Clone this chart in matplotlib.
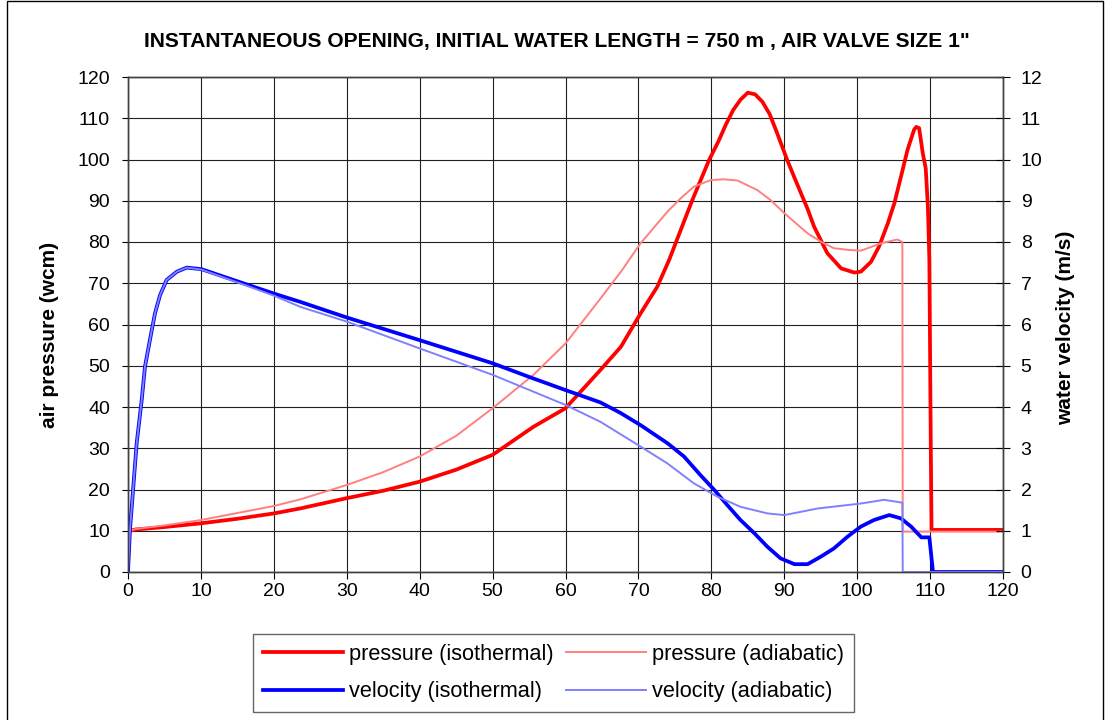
import matplotlib
matplotlib.use("Agg")
import matplotlib.pyplot as plt
from matplotlib import font_manager
from matplotlib.patches import Rectangle

# dados lidos do grafico original
# pressao do ar (wcm), eixo da esquerda
p_iso_t = [0.3, 1, 5, 10, 15, 20, 23.6, 30, 35, 40, 45, 50, 55.6, 60, 64.8, 67.6,
           70.3, 72.6, 74.2, 77.4, 79.7, 81, 82, 83, 84, 85, 86, 87, 88, 89, 90.4,
           91.35, 92.3, 93.2, 94.1, 95.9, 97.8, 99.6, 100.5, 101.9, 103, 104.2, 105.1,
           106, 106.9, 107.8, 108.1, 108.5, 109, 109.4, 109.7, 109.9, 110.1, 110.2, 120]
p_iso = [10, 10.3, 10.9, 11.8, 12.9, 14.2, 15.4, 17.9, 19.7, 21.9, 24.8, 28.4, 35.2,
         39.7, 49.0, 54.6, 62.7, 69.2, 75.6, 90.2, 99.9, 104.5, 108.5, 112, 114.5,
         116.2, 115.8, 114, 111, 106.5, 99.9, 95.8, 91.8, 88.0, 83.7, 77.3, 73.6,
         72.6, 72.8, 75.2, 78.9, 84.5, 89.4, 95.8, 102.3, 107.2, 107.9, 107.6, 101.5,
         97.9, 88.6, 75.6, 30, 10.2, 10.2]

p_adi_t = [0.3, 1, 5, 10, 15, 20, 23.6, 30, 35, 40, 45, 50, 55.6, 60, 64.8, 67.6, 70.3,
           74, 75.8, 77.6, 79.9, 81.7, 83.6, 86.3, 88.1, 90, 93.2, 95, 96.8, 98.7,
           100.5, 103.3, 105.5, 106.2, 106.25, 120]
p_adi = [10, 10.4, 11.3, 12.6, 14.3, 16.0, 17.6, 21.1, 24.2, 28.0, 33.0, 39.7, 47.8,
         55.4, 66.3, 72.8, 79.7, 87.4, 90.6, 93.4, 95.0, 95.2, 94.9, 92.6, 90.2,
         87.0, 82.1, 80.1, 78.5, 78.1, 77.9, 79.7, 80.6, 80.0, 9.8, 9.8]

# velocidade da agua (m/s), eixo da direita
v_iso_t = [0, 0.27, 0.73, 1.19, 1.88, 2.33, 3.0, 3.7, 4.39, 5.3, 6.7, 8.06, 10.1, 15.8,
           20, 23.6, 30, 40, 50, 55, 60, 64.8, 67.5, 70.3, 74, 76.25, 78.5, 80.4, 82.2,
           84, 85.9, 87.7, 89.5, 91.4, 93.2, 95, 96.8, 98.7, 100.5, 102.3, 104.4, 106,
           107.4, 108.8, 109.9, 110.4, 120]
v_iso = [0, 1.02, 2.07, 3.12, 4.17, 4.98, 5.62, 6.27, 6.71, 7.08, 7.28, 7.38, 7.34, 7.0,
         6.75, 6.55, 6.17, 5.62, 5.06, 4.73, 4.41, 4.11, 3.86, 3.56, 3.12, 2.80, 2.35,
         1.99, 1.62, 1.26, 0.94, 0.61, 0.33, 0.19, 0.19, 0.37, 0.57, 0.86, 1.10, 1.26,
         1.38, 1.30, 1.10, 0.84, 0.84, 0, 0]

v_adi_t = [0, 0.27, 0.73, 1.19, 1.88, 2.33, 3.0, 3.7, 4.39, 5.3, 6.7, 8.06, 10.1, 15.8,
           20, 23.6, 30, 40, 50, 60, 64.8, 70.3, 74, 77.6, 80.8, 84, 87.7, 90, 94.6,
           100.5, 103.7, 106.2, 106.25, 120]
v_adi = [0, 1.02, 2.07, 3.12, 4.17, 4.98, 5.62, 6.27, 6.71, 7.08, 7.28, 7.38, 7.33, 6.97,
         6.7, 6.43, 6.07, 5.42, 4.78, 4.05, 3.64, 3.04, 2.63, 2.15, 1.83, 1.58, 1.42,
         1.38, 1.54, 1.66, 1.75, 1.68, 0, 0]

titulo = 'INSTANTANEOUS OPENING, INITIAL WATER LENGTH = 750 m , AIR VALVE SIZE 1"'
x_ticks = list(range(0, 121, 10))
p_ticks = list(range(0, 121, 10))
v_ticks = list(range(0, 13))

nomes = [f.name for f in font_manager.fontManager.ttflist]
fonte = "Liberation Sans" if "Liberation Sans" in nomes else "DejaVu Sans"
plt.rcParams["font.family"] = fonte

fig = plt.figure(figsize=(11.05, 7.2), dpi=100)
ax = fig.add_axes([128 / 1105, 1 - 572 / 720, 875 / 1105, 495 / 720])
ax2 = ax.twinx()

l1, = ax.plot(p_iso_t, p_iso, color="#FF0000", lw=2.7, label="pressure (isothermal)")
l2, = ax.plot(p_adi_t, p_adi, color="#FF8080", lw=1.4, label="pressure (adiabatic)")
l3, = ax2.plot(v_iso_t, v_iso, color="#0000FF", lw=2.7, label="velocity (isothermal)")
l4, = ax2.plot(v_adi_t, v_adi, color="#8080FF", lw=1.4, label="velocity (adiabatic)")

ax.set_xlim(0, 120)
ax.set_ylim(0, 120)
ax2.set_ylim(0, 12)
ax.set_xticks(x_ticks)
ax.set_yticks(p_ticks)
ax2.set_yticks(v_ticks)
ax.grid(True, color="#202020", lw=0.8)
ax.set_axisbelow(True)

ax.tick_params(axis="x", direction="out", length=5, width=0.8, pad=3, labelsize=14)
ax.tick_params(axis="y", direction="out", length=4.5, width=0.8, pad=8.5, labelsize=14)
ax2.tick_params(axis="y", direction="inout", length=9.5, width=0.8, pad=8, labelsize=14)

for a in (ax, ax2):
    for s in a.spines.values():
        s.set_color("#404040")
        s.set_linewidth(1.0)

fig.text(50 / 1105, 1 - 335 / 720, "air pressure (wcm)", rotation=90, ha="center",
         va="center", fontsize=15, fontweight="bold")
fig.text(1066 / 1105, 1 - 328 / 720, "water velocity (m/s)", rotation=90, ha="center",
         va="center", fontsize=15, fontweight="bold")

t = fig.text(557 / 1105, 1 - 42 / 720, titulo, ha="center", va="center",
             fontsize=14, fontweight="bold")
fig.canvas.draw()
w = t.get_window_extent().width
t.set_fontsize(14 * 829 / w)

# ordem por coluna para ficar igual ao original (linhas: pressao / velocidade)
leg = fig.legend(handles=[l1, l3, l2, l4], ncol=2, loc="upper left",
                 bbox_to_anchor=(253 / 1105, 1 - 634 / 720), borderaxespad=0,
                 fontsize=15.7, frameon=True, fancybox=False, edgecolor="#404040",
                 handlelength=3.7, handletextpad=0.25, columnspacing=0.55,
                 labelspacing=0.75, borderpad=0.45)
leg.get_frame().set_linewidth(1.0)

fig.patches.append(Rectangle((7 / 1105, -0.01), 1096 / 1105, 1.008,
                             transform=fig.transFigure, fill=False,
                             edgecolor="black", lw=1.0))

fig.savefig("out.png", dpi=100)
